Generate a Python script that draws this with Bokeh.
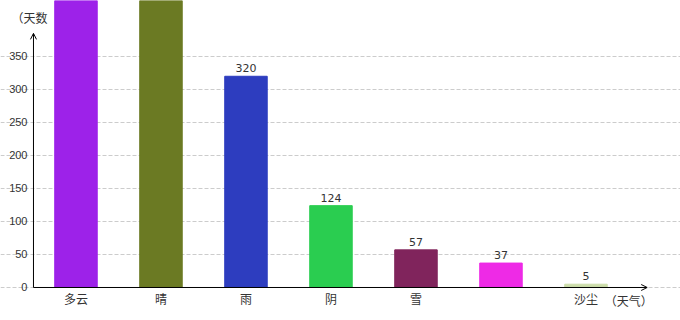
from bokeh.plotting import figure
from bokeh.models import ColumnDataSource, FixedTicker, Arrow, OpenHead
from bokeh.core.properties import value
from bokeh.embed import file_html
from bokeh.resources import INLINE

categories = ["多云", "晴", "雨", "阴", "雪", "", "沙尘"]
days = [700, 650, 320, 124, 57, 37, 5]
colors = ["#9D22E9", "#6B7A23", "#2D3DBF", "#2ACD50", "#80245C", "#EE2AE6", "#CCDDAA"]
y_ticks = [0, 50, 100, 150, 200, 250, 300, 350]
y_axis_top = 385

xs = list(range(len(categories)))
src = ColumnDataSource(dict(x=xs, top=days, color=colors,
                            label=[str(d) if d <= y_axis_top else "" for d in days]))

p = figure(width=680, height=320, output_backend="svg", toolbar_location=None,
           x_range=(-0.888, 7.112), y_range=(-50, 434.8),
           min_border=0, outline_line_color=None)

p.text(x=[-0.76], y=[409], text=["（天数"], text_font=value("Noto Sans CJK SC"),
       text_font_size="12px", text_color="#333333", text_baseline="middle")
p.text(x=[6.22], y=[-19.5], text=["（天气）"], text_font=value("Noto Sans CJK SC"),
       text_font_size="12px", text_color="#333333", text_baseline="middle")

p.vbar(x="x", top="top", width=0.5, color="color", source=src)
p.text(x="x", y="top", text="label", source=src, text_align="center",
       text_baseline="bottom", y_offset=-4, text_font_size="11px",
       text_color="#333333", text_font=value("DejaVu Sans"))

p.xaxis.fixed_location = 0
p.yaxis.fixed_location = -0.5
p.xaxis.ticker = FixedTicker(ticks=xs)
p.xaxis.major_label_overrides = {i: c for i, c in enumerate(categories)}
p.xaxis.major_label_text_font = "Noto Sans CJK SC"
p.xaxis.major_label_text_font_size = "12px"
p.xaxis.major_label_text_color = "#333333"
p.xaxis.major_label_standoff = -3
p.yaxis.ticker = FixedTicker(ticks=y_ticks)
p.yaxis.major_label_text_font = "Liberation Sans"
p.yaxis.major_label_text_font_size = "11px"
p.yaxis.major_label_text_color = "#333333"
p.yaxis.major_label_standoff = 0
for ax in (p.xaxis, p.yaxis):
    ax.axis_line_color = None
    ax.major_tick_line_color = None
    ax.minor_tick_line_color = None

p.xgrid.grid_line_color = None
p.ygrid.ticker = FixedTicker(ticks=y_ticks)
p.ygrid.grid_line_color = "#cccccc"
p.ygrid.grid_line_dash = "4 2"
p.ygrid.bounds = (-0.5, 6.7)

p.add_layout(Arrow(x_start=-0.5, y_start=0, x_end=6.72, y_end=0, line_color="black",
                   line_width=1, end=OpenHead(size=6, line_color="black", line_width=1)))
p.add_layout(Arrow(x_start=-0.5, y_start=0, x_end=-0.5, y_end=y_axis_top, line_color="black",
                   line_width=1, end=OpenHead(size=6, line_color="black", line_width=1)))

open("out.html", "w").write(file_html(p, INLINE))
